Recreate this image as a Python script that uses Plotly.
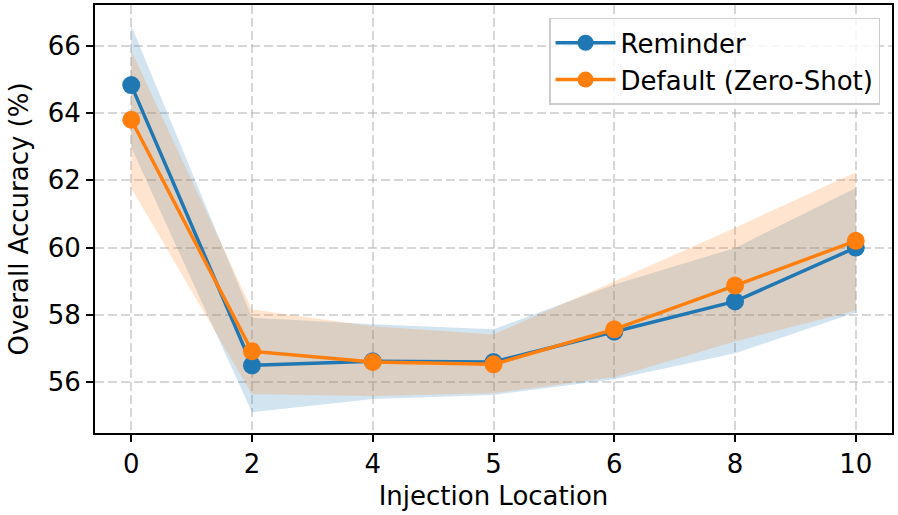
import plotly.graph_objects as go

locations = ["0", "2", "4", "5", "6", "8", "10"]

reminder_mean = [64.83, 56.50, 56.62, 56.60, 57.50, 58.40, 60.00]
reminder_upper = [66.60, 57.92, 57.72, 57.57, 58.90, 59.99, 61.77]
reminder_lower = [62.98, 55.11, 55.50, 55.62, 56.09, 56.86, 58.07]

default_mean = [63.80, 56.92, 56.60, 56.53, 57.57, 58.87, 60.20]
default_upper = [65.85, 58.16, 57.66, 57.42, 58.99, 60.59, 62.24]
default_lower = [61.77, 55.64, 55.59, 55.67, 56.15, 57.21, 58.13]

y_ticks = [56, 58, 60, 62, 64, 66]

BLUE = "#1f77b4"
ORANGE = "#ff7f0e"
FONT = "DejaVu Sans"
FS = 26

fig = go.Figure()

def band(upper, lower, rgba):
    fig.add_trace(go.Scatter(x=locations, y=upper, mode="lines", line=dict(width=0),
                             showlegend=False, hoverinfo="skip"))
    fig.add_trace(go.Scatter(x=locations, y=lower, mode="lines", line=dict(width=0),
                             fill="tonexty", fillcolor=rgba, showlegend=False, hoverinfo="skip"))

band(reminder_upper, reminder_lower, "rgba(31,119,180,0.2)")
band(default_upper, default_lower, "rgba(255,127,14,0.2)")
fig.add_trace(go.Scatter(x=locations, y=reminder_mean, mode="lines+markers", name="Reminder",
                         legendgroup="r",
                         line=dict(color=BLUE, width=3.5), marker=dict(size=18, color=BLUE)))
fig.add_trace(go.Scatter(x=locations, y=default_mean, mode="lines+markers", name="Default (Zero-Shot)",
                         legendgroup="d",
                         line=dict(color=ORANGE, width=3.5), marker=dict(size=18, color=ORANGE)))

axis_common = dict(
    showline=True, linecolor="black", linewidth=2, mirror=True,
    ticks="outside", ticklen=7, tickwidth=1.6, tickcolor="black",
    showgrid=True, gridcolor="rgba(176,176,176,0.5)", griddash="9px,4px", gridwidth=1.5,
    zeroline=False, tickfont=dict(family=FONT, size=FS, color="black"), automargin=False,
)

fig.update_xaxes(type="category", range=[-0.3, 6.3],
                 title=dict(text="Injection Location", font=dict(family=FONT, size=FS, color="black"), standoff=9),
                 **axis_common)
fig.update_yaxes(range=[54.49, 67.21], tickvals=y_ticks,
                 title=dict(text="Overall Accuracy (%)", font=dict(family=FONT, size=FS, color="black"), standoff=12),
                 **axis_common)

fig.update_layout(
    width=898, height=515,
    margin=dict(l=95, r=6, t=5, b=82),
    plot_bgcolor="white", paper_bgcolor="white",
    font=dict(family=FONT, size=FS, color="black"),
    legend=dict(x=0.985, y=0.97, xanchor="right", yanchor="top", traceorder="normal",
                bgcolor="rgba(255,255,255,0.8)", bordercolor="#cccccc", borderwidth=1.5,
                font=dict(family=FONT, size=FS, color="black"), itemwidth=60,
                tracegroupgap=5),
    showlegend=True,
)

fig.write_html("out.html", config={"displayModeBar": False},
               post_script="document.body.style.margin='0';document.body.style.padding='0';")
